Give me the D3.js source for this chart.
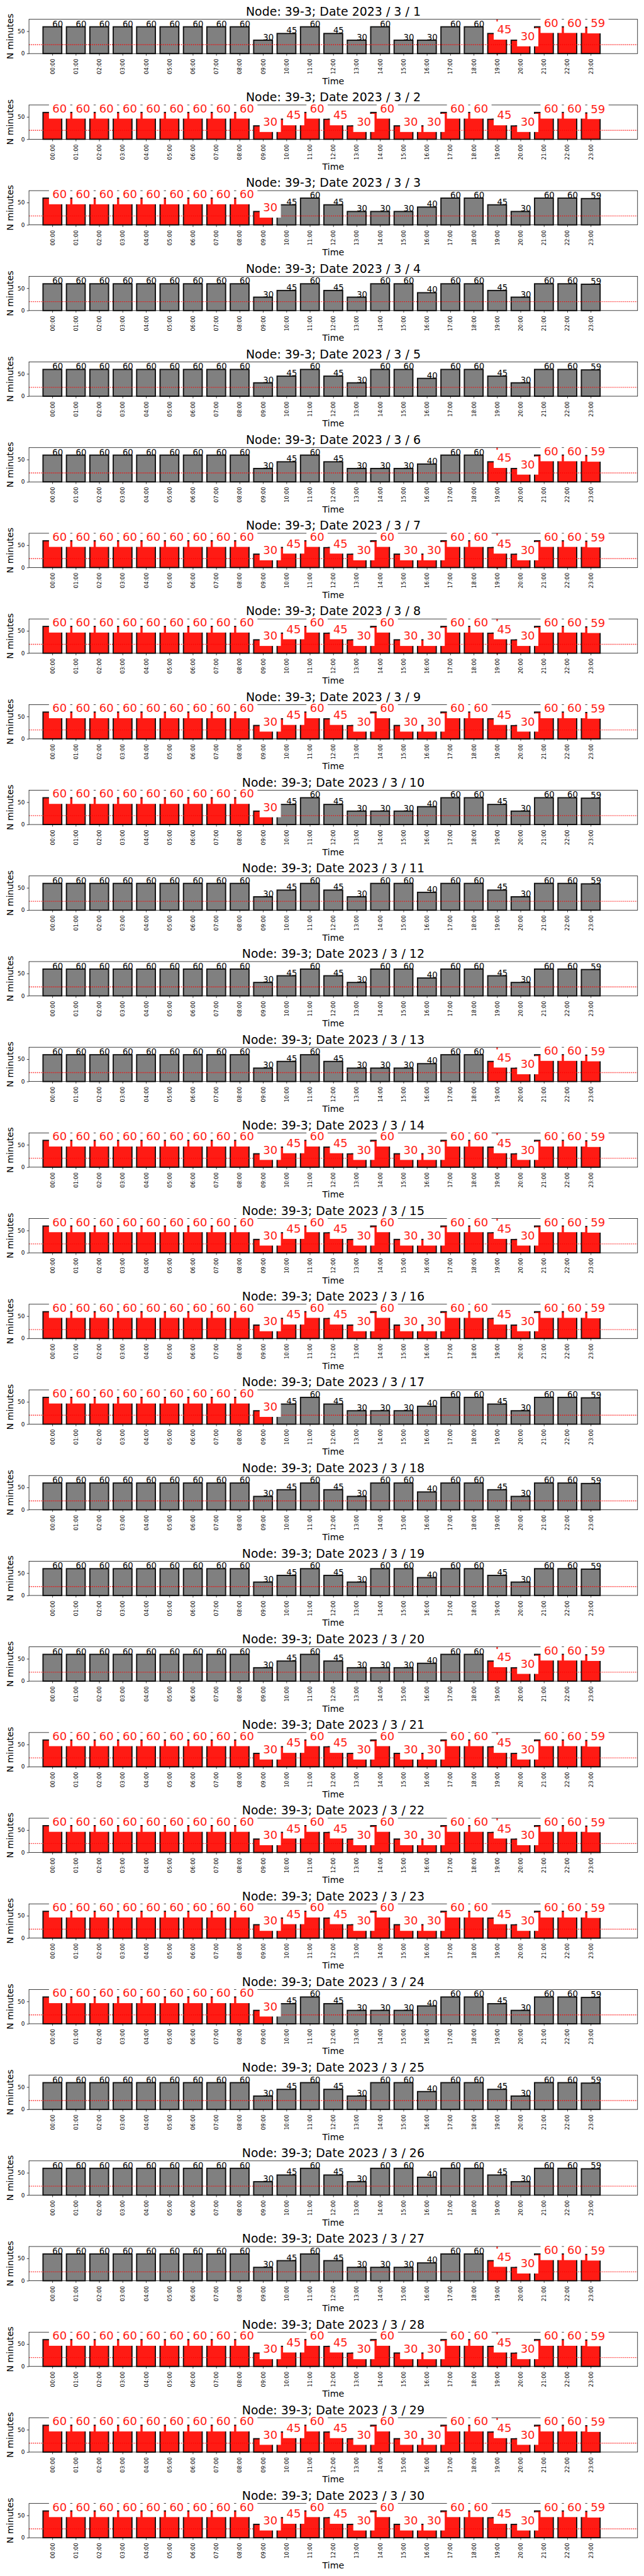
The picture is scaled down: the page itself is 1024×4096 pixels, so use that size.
<!DOCTYPE html>
<html><head><meta charset="utf-8">
<script src="https://cdn.jsdelivr.net/npm/d3@7"></script>
<style>html,body{margin:0;padding:0;background:#fff}svg{display:block}</style>
</head><body><svg id="chart"></svg>
<script>
// ---------------- data ----------------
const nodeName = "39-3";
const year = 2023, month = 3;
const days = [1,2,3,4,5,6,7,8,9,10,11,12,13,14,15,16,17,18,19,20,21,22,23,24,25,26,27,28,29,30];
const hourLabels = ["00:00","01:00","02:00","03:00","04:00","05:00","06:00","07:00","08:00","09:00","10:00","11:00",
                    "12:00","13:00","14:00","15:00","16:00","17:00","18:00","19:00","20:00","21:00","22:00","23:00"];
// N minutes per hour, one row per day (3/1 ... 3/30)
const minutesByDay = [
  [60,60,60,60,60,60,60,60,60,30,45,60,45,30,60,30,30,60,60,45,30,60,60,59], // 1
  [60,60,60,60,60,60,60,60,60,30,45,60,45,30,60,30,30,60,60,45,30,60,60,59], // 2
  [60,60,60,60,60,60,60,60,60,30,45,60,45,30,30,30,40,60,60,45,30,60,60,59], // 3
  [60,60,60,60,60,60,60,60,60,30,45,60,45,30,60,60,40,60,60,45,30,60,60,59], // 4
  [60,60,60,60,60,60,60,60,60,30,45,60,45,30,60,60,40,60,60,45,30,60,60,59], // 5
  [60,60,60,60,60,60,60,60,60,30,45,60,45,30,30,30,40,60,60,45,30,60,60,59], // 6
  [60,60,60,60,60,60,60,60,60,30,45,60,45,30,60,30,30,60,60,45,30,60,60,59], // 7
  [60,60,60,60,60,60,60,60,60,30,45,60,45,30,60,30,30,60,60,45,30,60,60,59], // 8
  [60,60,60,60,60,60,60,60,60,30,45,60,45,30,60,30,30,60,60,45,30,60,60,59], // 9
  [60,60,60,60,60,60,60,60,60,30,45,60,45,30,30,30,40,60,60,45,30,60,60,59], // 10
  [60,60,60,60,60,60,60,60,60,30,45,60,45,30,60,60,40,60,60,45,30,60,60,59], // 11
  [60,60,60,60,60,60,60,60,60,30,45,60,45,30,60,60,40,60,60,45,30,60,60,59], // 12
  [60,60,60,60,60,60,60,60,60,30,45,60,45,30,30,30,40,60,60,45,30,60,60,59], // 13
  [60,60,60,60,60,60,60,60,60,30,45,60,45,30,60,30,30,60,60,45,30,60,60,59], // 14
  [60,60,60,60,60,60,60,60,60,30,45,60,45,30,60,30,30,60,60,45,30,60,60,59], // 15
  [60,60,60,60,60,60,60,60,60,30,45,60,45,30,60,30,30,60,60,45,30,60,60,59], // 16
  [60,60,60,60,60,60,60,60,60,30,45,60,45,30,30,30,40,60,60,45,30,60,60,59], // 17
  [60,60,60,60,60,60,60,60,60,30,45,60,45,30,60,60,40,60,60,45,30,60,60,59], // 18
  [60,60,60,60,60,60,60,60,60,30,45,60,45,30,60,60,40,60,60,45,30,60,60,59], // 19
  [60,60,60,60,60,60,60,60,60,30,45,60,45,30,30,30,40,60,60,45,30,60,60,59], // 20
  [60,60,60,60,60,60,60,60,60,30,45,60,45,30,60,30,30,60,60,45,30,60,60,59], // 21
  [60,60,60,60,60,60,60,60,60,30,45,60,45,30,60,30,30,60,60,45,30,60,60,59], // 22
  [60,60,60,60,60,60,60,60,60,30,45,60,45,30,60,30,30,60,60,45,30,60,60,59], // 23
  [60,60,60,60,60,60,60,60,60,30,45,60,45,30,30,30,40,60,60,45,30,60,60,59], // 24
  [60,60,60,60,60,60,60,60,60,30,45,60,45,30,60,60,40,60,60,45,30,60,60,59], // 25
  [60,60,60,60,60,60,60,60,60,30,45,60,45,30,60,60,40,60,60,45,30,60,60,59], // 26
  [60,60,60,60,60,60,60,60,60,30,45,60,45,30,30,30,40,60,60,45,30,60,60,59], // 27
  [60,60,60,60,60,60,60,60,60,30,45,60,45,30,60,30,30,60,60,45,30,60,60,59], // 28
  [60,60,60,60,60,60,60,60,60,30,45,60,45,30,60,30,30,60,60,45,30,60,60,59], // 29
  [60,60,60,60,60,60,60,60,60,30,45,60,45,30,60,30,30,60,60,45,30,60,60,59]  // 30
];
// highlighted (red) hour range per day; null = none
const redStart = [19,0,0,null,null,19,0,0,0,0,null,null,19,0,0,0,0,null,null,19,0,0,0,0,null,null,19,0,0,0];
const redEnd   = [23,23,9,null,null,23,23,23,23,9,null,null,23,23,23,23,9,null,null,23,23,23,23,9,null,null,23,23,23,23];
// days showing the red marker line at 19:00
const markerDays = [1,6,7,8,13,14,15,20,21,22,27,28,29];
const markerHour = 19;
const threshold = 20;
const yTicks = [0,50];
const yMax = 76.8;

// ---------------- drawing ----------------
const FONT = "DejaVu Sans, sans-serif";
const RED = "#ff1b14";
const W = 1500, H = 6000;
const svg = d3.select("#chart").attr("width",1024).attr("height",4096)
  .attr("viewBox",`0 0 ${W} ${H}`);
svg.append("rect").attr("width",W).attr("height",H).attr("fill","#fff");

const axLeft = 67.5, axRight = 1485, axTop0 = 45, period = 199.52, axH = 79.8;
const x = d3.scaleLinear().domain([-1,25]).range([axLeft,axRight]);
const barW = x(0.8) - x(0);
const hourIdx = hourLabels.map((_,h)=>h);

days.forEach((day,i)=>{
  const top = axTop0 + period*i, bottom = top + axH;
  const y = d3.scaleLinear().domain([0,yMax]).range([bottom,top]);
  const vals = minutesByDay[i];
  const isRed = h => redStart[i] !== null && h >= redStart[i] && h <= redEnd[i];
  const g = svg.append("g");

  if (markerDays.includes(day)) {
    g.append("line").attr("x1",x(markerHour)).attr("x2",x(markerHour))
      .attr("y1",bottom+3).attr("y2",top)
      .attr("stroke",RED).attr("stroke-width",3);
  }

  g.selectAll("rect.bar").data(vals).join("rect").attr("class","bar")
    .attr("x",(d,h)=>x(h)-barW/2).attr("y",d=>y(d))
    .attr("width",barW).attr("height",d=>y(0)-y(d))
    .attr("fill",(d,h)=>isRed(h)?RED:"#808080")
    .attr("stroke","#111").attr("stroke-width",2.8);

  g.append("line").attr("x1",axLeft).attr("x2",axRight)
    .attr("y1",y(threshold)).attr("y2",y(threshold))
    .attr("stroke","#ff0000").attr("stroke-width",2).attr("stroke-dasharray","2,2.6");

  g.append("rect").attr("x",axLeft).attr("y",top).attr("width",axRight-axLeft).attr("height",axH)
    .attr("fill","none").attr("stroke","#000").attr("stroke-width",1.1);

  const xa = g.append("g").attr("transform",`translate(0,${bottom})`)
    .call(d3.axisBottom(x).tickValues(hourIdx).tickFormat(h=>hourLabels[h]).tickSize(4.9).tickSizeOuter(0));
  xa.select(".domain").remove();
  xa.attr("font-size",12.5).attr("font-family",FONT);
  xa.selectAll(".tick line").attr("stroke","#000").attr("stroke-width",1.1);
  xa.selectAll(".tick text").attr("transform","rotate(-90)").attr("x",-12).attr("y",0)
    .attr("dy","0.35em").attr("text-anchor","end").attr("fill","#000");

  const ya = g.append("g").attr("transform",`translate(${axLeft},0)`)
    .call(d3.axisLeft(y).tickValues(yTicks).tickSize(4.9).tickPadding(4.9).tickSizeOuter(0));
  ya.select(".domain").remove();
  ya.attr("font-size",13).attr("font-family",FONT);
  ya.selectAll(".tick line").attr("stroke","#000").attr("stroke-width",1.1);
  ya.selectAll(".tick text").attr("fill","#000");

  // value labels
  vals.forEach((d,h)=>{
    if (isRed(h)) {
      const fs = 26.4, pad = 0.3*fs;
      const bx = g.append("rect").attr("fill","#fff");
      const t = g.append("text").attr("x",x(h)).attr("y",y(d))
        .attr("font-size",fs).attr("font-family",FONT).attr("fill",RED).text(d);
      const w = t.node().getComputedTextLength();
      bx.attr("x",x(h)-pad).attr("y",y(d)-0.76*fs-pad)
        .attr("width",w+2*pad).attr("height",fs+2*pad);
    } else {
      g.append("text").attr("x",x(h)).attr("y",y(d))
        .attr("font-size",19.4).attr("font-family",FONT).attr("fill","#000").text(d);
    }
  });

  g.append("text").attr("x",(axLeft+axRight)/2).attr("y",top-8.3)
    .attr("text-anchor","middle").attr("font-size",27.8).attr("font-family",FONT)
    .text(`Node: ${nodeName}; Date ${year} / ${month} / ${day}`);
  g.append("text").attr("x",(axLeft+axRight)/2).attr("y",bottom+71)
    .attr("text-anchor","middle").attr("font-size",20.8).attr("font-family",FONT).text("Time");
  g.append("text").attr("transform",`translate(30.7,${(top+bottom)/2}) rotate(-90)`)
    .attr("text-anchor","middle").attr("font-size",20.8).attr("font-family",FONT).text("N minutes");
});
</script></body></html>
